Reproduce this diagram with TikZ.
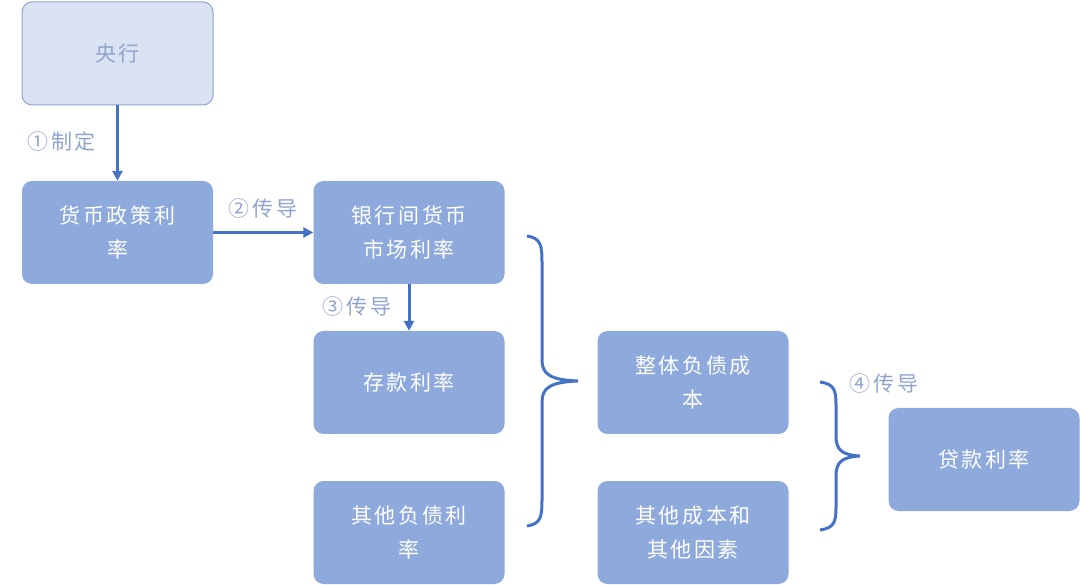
\documentclass[tikz,border=0pt]{standalone}
\usepackage{fontspec}
\newfontfamily\cjk[LetterSpace=12]{Noto Sans CJK SC}
\usetikzlibrary{arrows.meta}
\definecolor{boxf}{HTML}{8EA9DB}
\definecolor{lightf}{HTML}{DAE3F3}
\definecolor{lbl}{HTML}{8FA3CC}
\definecolor{arr}{HTML}{4472C4}
\begin{document}
\begin{tikzpicture}[x=1pt,y=-1pt,
  bx/.style={draw=none,fill=boxf,rounded corners=10pt,minimum width=191pt,minimum height=103pt,text=white,font=\cjk\fontsize{21}{34}\selectfont,align=center,inner sep=0pt},
  lab/.style={text=lbl,font=\cjk\fontsize{21}{26}\selectfont,inner sep=0pt},
  ar/.style={draw=arr,line width=3pt,-{Triangle[length=10pt,width=10pt]}},
  br/.style={draw=arr,line width=3pt}]
\useasboundingbox (0,0) rectangle (1080,585);
\node[bx,fill=lightf,draw=lbl,line width=1pt,text=lbl] (cb) at (117.5,53.5) {央行};
\node[bx] (pol) at (117.5,232.5) {货币政策利\\率};
\node[bx] (ib) at (409,232.5) {银行间货币\\市场利率};
\node[bx] (dep) at (409,382.5) {存款利率};
\node[bx] (oth) at (409,532.5) {其他负债利\\率};
\node[bx] (tot) at (693,382.5) {整体负债成\\本};
\node[bx] (oc) at (693,532.5) {其他成本和\\其他因素};
\node[bx] (loan) at (984,459.5) {贷款利率};
\draw[ar] (cb.south) -- (pol.north);
\node[lab] (l1) at (62,142) {①制定};
\draw[ar] (pol.east) -- (ib.west);
\node[lab] (l2) at (263,209) {②传导};
\draw[ar] (ib.south) -- (dep.north);
\node[lab] (l3) at (357,307) {③传导};
\node[lab] (l4) at (884,384) {④传导};
\draw[br] (527,236) .. controls (541,238) and (542,246) .. (542,262) -- (542,360)
  .. controls (542,374) and (550,380) .. (578,381)
  .. controls (550,382) and (542,388) .. (542,402) -- (542,500)
  .. controls (542,516) and (541,524) .. (527,526);
\draw[br] (820,382) .. controls (834,384) and (836,390) .. (836,404) -- (836,436)
  .. controls (836,450) and (842,455) .. (860,456)
  .. controls (842,457) and (836,462) .. (836,476) -- (836,508)
  .. controls (836,522) and (834,528) .. (820,530);
\end{tikzpicture}
\end{document}
